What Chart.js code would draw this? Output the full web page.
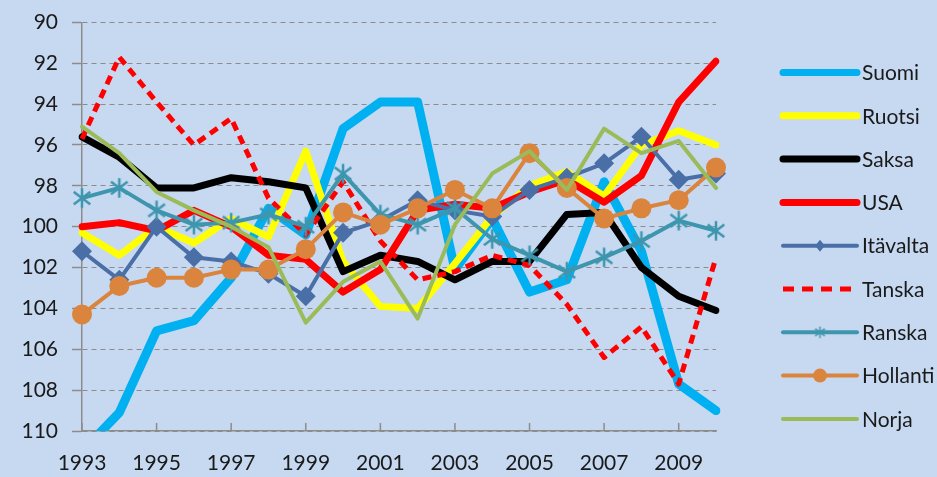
<!DOCTYPE html>
<html><head><meta charset="utf-8">
<script src="https://cdn.jsdelivr.net/npm/chart.js@4.4.0/dist/chart.umd.min.js"></script>
<style>
html,body{margin:0;padding:0;background:#C6D9F1;overflow:hidden;}
#wrap{width:937px;height:477px;position:relative;}
</style></head><body><div id="wrap"><canvas id="c" width="937" height="477"></canvas></div>
<script>
const years = ['1993','1994','1995','1996','1997','1998','1999','2000','2001','2002','2003','2004','2005','2006','2007','2008','2009','2010'];
const seriesNames = ['Suomi','Ruotsi','Saksa','USA','Itävalta','Tanska','Ranska','Hollanti','Norja'];
const yTickValues = [90,92,94,96,98,100,102,104,106,108,110];

const suomi    = [111.0,109.1,105.1,104.6,102.5,99.1,100.4,95.2,93.9,93.9,102.1,99.6,103.2,102.6,97.8,101.2,107.7,109.0];
const ruotsi   = [100.3,101.4,100.0,100.8,99.6,100.5,96.3,101.7,103.9,104.0,101.8,99.5,98.0,97.3,98.5,96.0,95.3,96.0];
const saksa    = [95.6,96.6,98.1,98.1,97.6,97.8,98.1,102.2,101.4,101.7,102.6,101.7,101.7,99.4,99.3,102.0,103.4,104.1];
const usa      = [100.0,99.8,100.2,99.2,100.0,101.4,101.6,103.2,102.1,99.2,98.9,99.1,98.3,97.7,98.8,97.5,93.9,91.9];
const itavalta = [101.2,102.6,100.0,101.5,101.7,102.3,103.4,100.3,99.7,98.7,99.2,99.5,98.2,97.6,96.9,95.6,97.7,97.4];
const tanska   = [95.7,91.7,93.9,96.0,94.7,98.6,100.4,97.8,100.7,102.6,102.2,101.4,101.9,103.8,106.4,104.9,107.7,101.5];
const ranska   = [98.6,98.1,99.2,99.9,99.8,99.4,100.0,97.4,99.4,99.9,99.1,100.6,101.4,102.2,101.5,100.7,99.7,100.2];
const hollanti = [104.3,102.9,102.5,102.5,102.1,102.1,101.1,99.3,99.9,99.1,98.2,99.1,96.4,98.1,99.6,99.1,98.7,97.1];
const norja    = [95.1,96.4,98.3,99.2,100.0,101.0,104.7,102.7,101.7,104.5,99.9,97.4,96.3,98.2,95.2,96.4,95.8,98.1];

function makeAsterisk(size, color, lw){
  const c = document.createElement('canvas');
  c.width = size; c.height = size;
  const g = c.getContext('2d');
  const r = size/2 - lw/2, m = size/2;
  g.strokeStyle = color; g.lineWidth = lw; g.lineCap = 'butt';
  g.beginPath();
  g.moveTo(m, m - r); g.lineTo(m, m + r);
  const d = r*0.85;
  g.moveTo(m - d, m - d*0.75); g.lineTo(m + d, m + d*0.75);
  g.moveTo(m - d, m + d*0.75); g.lineTo(m + d, m - d*0.75);
  g.stroke();
  return c;
}
const RANSKA = '#3E96AE';
const starBig = makeAsterisk(22, RANSKA, 2.5);
const starSmall = makeAsterisk(13, RANSKA, 1.5);

const BG = '#C6D9F1';
const GRID = '#8C8C8C';
const FONT = 'Lato, "Open Sans", sans-serif';

const cfg = [
  {data: suomi, color:'#00B0F0', w:9, lw:7},
  {data: ruotsi, color:'#FFFF00', w:7, lw:7},
  {data: saksa, color:'#000000', w:7, lw:7},
  {data: usa, color:'#FF0000', w:7, lw:7},
  {data: itavalta, color:'#4A6FA6', w:4, lw:4, ps:'rectRot', pr:10, lps:'rectRot', lpr:6},
  {data: tanska, color:'#FF0000', w:5, lw:5, dash:[9,6], ldash:[11,8]},
  {data: ranska, color:RANSKA, w:4, lw:4, ps:starBig, pr:11, lps:starSmall},
  {data: hollanti, color:'#DB843D', w:4, lw:4, ps:'circle', pr:10, lps:'circle', lpr:7},
  {data: norja, color:'#9BBB59', w:4, lw:4}
];

const datasets = cfg.map((c, i) => ({
  label: seriesNames[i],
  data: c.data,
  borderColor: c.color,
  backgroundColor: c.color,
  borderWidth: c.w,
  borderDash: c.dash || [],
  borderJoinStyle: 'round',
  borderCapStyle: c.dash ? 'butt' : 'round',
  tension: 0,
  pointStyle: c.ps || 'circle',
  pointRadius: c.ps ? c.pr : 0,
  pointHoverRadius: c.ps ? c.pr : 0,
  pointBorderWidth: 0,
  pointBackgroundColor: c.color,
  pointBorderColor: c.color,
  order: cfg.length - i,
  _lw: c.lw, _ldash: c.ldash || [], _lps: c.lps, _lpr: c.lpr || 6
}));

const bgPlugin = {
  id:'bg',
  beforeDraw(chart){
    const ctx = chart.ctx;
    ctx.save(); ctx.fillStyle = BG; ctx.fillRect(0,0,chart.width,chart.height); ctx.restore();
  }
};

const xTickPlugin = {
  id:'xticks',
  beforeDatasetsDraw(chart){
    const s = chart.scales.x, ctx = chart.ctx;
    ctx.save(); ctx.strokeStyle = GRID; ctx.lineWidth = 1.5;
    for (let i = 0; i < years.length - 1; i += 2){
      const x = s.getPixelForValue(i);
      ctx.beginPath(); ctx.moveTo(x, s.top - 8); ctx.lineTo(x, s.top); ctx.stroke();
    }
    ctx.restore();
  }
};

const legendPlugin = {
  id:'customLegend',
  afterDraw(chart){
    const ctx = chart.ctx;
    const x0 = 783, x1 = 857, tx = 862, y0 = 72.5, dy = 43.3;
    chart.data.datasets.forEach((ds, i) => {
      const y = y0 + i*dy;
      ctx.save();
      ctx.strokeStyle = ds.borderColor;
      ctx.lineWidth = ds._lw;
      ctx.setLineDash(ds._ldash);
      ctx.lineCap = ds._ldash.length ? 'butt' : 'round';
      ctx.beginPath(); ctx.moveTo(x0, y); ctx.lineTo(x1, y); ctx.stroke();
      ctx.setLineDash([]);
      if (ds._lps) {
        const cx = (x0+x1)/2;
        if (typeof ds._lps === 'string') {
          ctx.fillStyle = ds.borderColor;
          ctx.beginPath();
          if (ds._lps === 'circle') ctx.arc(cx, y, ds._lpr, 0, Math.PI*2);
          else { const r = ds._lpr; ctx.moveTo(cx, y-r); ctx.lineTo(cx+r*0.8, y); ctx.lineTo(cx, y+r); ctx.lineTo(cx-r*0.8, y); ctx.closePath(); }
          ctx.fill();
        } else {
          Chart.helpers.drawPoint(ctx, {pointStyle: ds._lps, radius: ds._lpr, borderWidth: 0, rotation: 0}, cx, y);
        }
      }
      ctx.fillStyle = '#1A1A1A';
      ctx.font = '21px ' + FONT;
      ctx.textBaseline = 'middle';
      ctx.textAlign = 'left';
      ctx.fillText(ds.label, tx, y + 1);
      ctx.restore();
    });
  }
};

function build(){
  new Chart(document.getElementById('c'), {
    type:'line',
    data:{labels: years, datasets},
    options:{
      responsive:false, animation:false, devicePixelRatio:1,
      layout:{padding:{top:21, right:221, left:0, bottom:0}},
      plugins:{legend:{display:false}, tooltip:{enabled:false}},
      scales:{
        x:{
          type:'category', offset:false,
          grid:{display:false, drawTicks:false},
          border:{display:true, color:GRID, width:1.5},
          ticks:{autoSkip:false, maxRotation:0, minRotation:0, padding:20, color:'#1A1A1A',
                 font:{family:FONT, size:21},
                 callback:(v,i)=> i%2===0 ? years[i] : null},
          afterFit(s){ s.height = 46; }
        },
        y:{
          reverse:true, min:90, max:110,
          afterBuildTicks(s){ s.ticks = yTickValues.map(v=>({value:v})); },
          grid:{color:GRID, lineWidth:1, tickLength:10, tickColor:GRID, tickWidth:1.5, tickBorderDash:[], drawTicks:true},
          border:{display:true, color:GRID, width:1.5, dash:[5,4]},
          ticks:{padding:14, color:'#1A1A1A', font:{family:FONT, size:21, lineHeight:0.8}},
          afterFit(s){ s.width = 82; }
        }
      }
    },
    plugins:[bgPlugin, xTickPlugin, legendPlugin]
  });
}
if (document.fonts && document.fonts.load) {
  document.fonts.load('21px Lato').then(build, build);
} else build();
</script></body></html>
